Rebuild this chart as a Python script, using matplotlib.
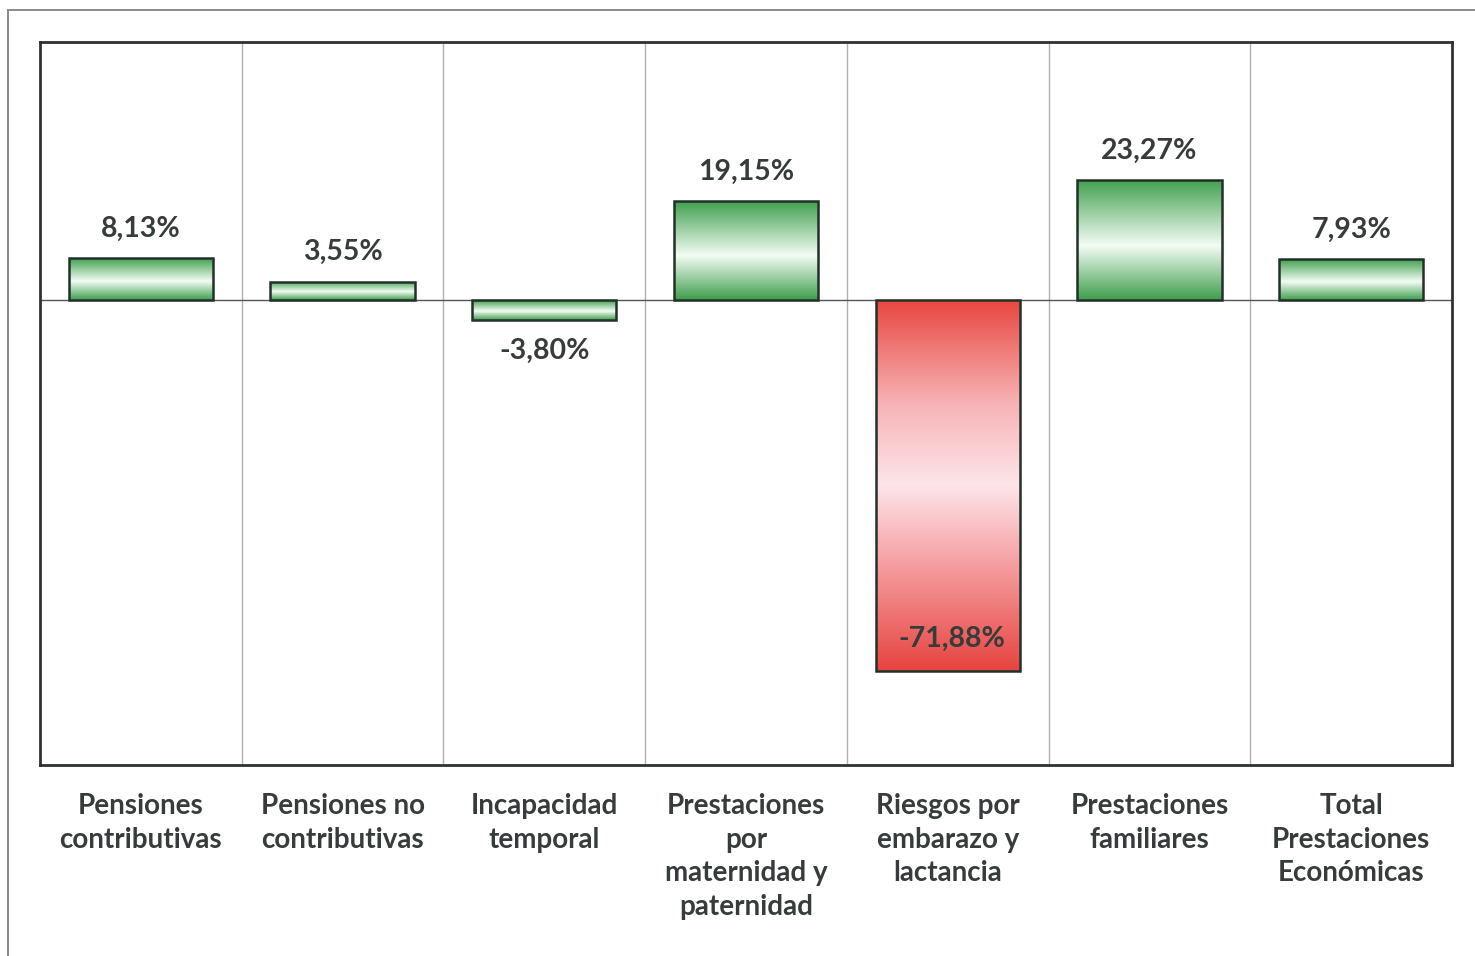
import matplotlib
matplotlib.use("Agg")
import matplotlib.pyplot as plt
import numpy as np
from matplotlib.colors import LinearSegmentedColormap
from matplotlib.lines import Line2D

categories = ["Pensiones\ncontributivas", "Pensiones no\ncontributivas",
              "Incapacidad\ntemporal", "Prestaciones\npor\nmaternidad y\npaternidad",
              "Riesgos por\nembarazo y\nlactancia", "Prestaciones\nfamiliares",
              "Total\nPrestaciones\nEconómicas"]
values = [8.13, 3.55, -3.80, 19.15, -71.88, 23.27, 7.93]

plt.rcParams['font.family'] = ['Lato', 'DejaVu Sans']
TXT = '#363b3b'

fig = plt.figure(figsize=(14.75, 9.56), dpi=100)
ax = fig.add_axes([40/1475, 1-765/956, (1452-40)/1475, (765-42)/956])

green_cmap = LinearSegmentedColormap.from_list(
    'g', [(0.0, '#3f9e4d'), (0.45, '#f3fcf4'), (1.0, '#40a04e')])
red_cmap = LinearSegmentedColormap.from_list(
    'r', [(0.0, '#e6443f'), (0.3, '#f6a3a6'), (0.5, '#fde5ea'), (0.72, '#f7b3b6'),
          (1.0, '#e8463f')])

x = np.arange(len(values))
width = 0.715
bars = ax.bar(x, values, width=width, facecolor='none', edgecolor='#23302a',
              linewidth=1.8, zorder=4)

grad = np.linspace(0, 1, 256).reshape(-1, 1)
for b, v in zip(bars, values):
    cmap = red_cmap if v < -20 else green_cmap
    x0, y0 = b.get_x(), b.get_y()
    w, h = b.get_width(), b.get_height()
    ylo, yhi = min(y0, y0 + h), max(y0, y0 + h)
    im = ax.imshow(grad, cmap=cmap, aspect='auto', origin='lower',
                   extent=[x0, x0 + w, ylo, yhi], zorder=3)
    im.set_clip_path(b)

VFS = 20.5
for xi, v in zip(x, values):
    s = f"{v:.2f}".replace('.', ',') + '%'
    if v >= 0:
        ax.annotate(s, (xi, v), xytext=(0, 12), textcoords='offset points',
                    ha='center', va='bottom', fontsize=VFS, fontweight='bold',
                    color=TXT, zorder=5)
    elif v > -20:
        ax.annotate(s, (xi, v), xytext=(0, -13), textcoords='offset points',
                    ha='center', va='top', fontsize=VFS, fontweight='bold',
                    color=TXT, zorder=5)
    else:
        ax.annotate(s, (xi, v), xytext=(3, 14), textcoords='offset points',
                    ha='center', va='bottom', fontsize=VFS, fontweight='bold',
                    color=TXT, zorder=5)

ax.set_xlim(-0.5, len(values) - 0.5)
ax.set_ylim(-90, 50)
ax.axhline(0, color='#555555', linewidth=1.0, zorder=2)
for b in np.arange(0.5, len(values) - 0.5, 1.0):
    ax.axvline(b, color='#b0b0b0', linewidth=1.0, zorder=1)

ax.set_yticks([])
ax.set_xticks(x)
ax.set_xticklabels(categories, fontsize=20, fontweight='bold', color=TXT,
                   linespacing=1.37, multialignment='center')
ax.tick_params(axis='x', length=0, pad=20)
for sp in ax.spines.values():
    sp.set_color('#2e3331')
    sp.set_linewidth(2.0)

# outer frame lines (top and left)
fig.add_artist(Line2D([8/1475, 1], [1-10/956, 1-10/956], transform=fig.transFigure,
                      color='#8a8a8a', linewidth=1.4))
fig.add_artist(Line2D([8/1475, 8/1475], [0, 1-10/956], transform=fig.transFigure,
                      color='#8a8a8a', linewidth=1.4))

fig.savefig('out.png', dpi=100, facecolor='white')
